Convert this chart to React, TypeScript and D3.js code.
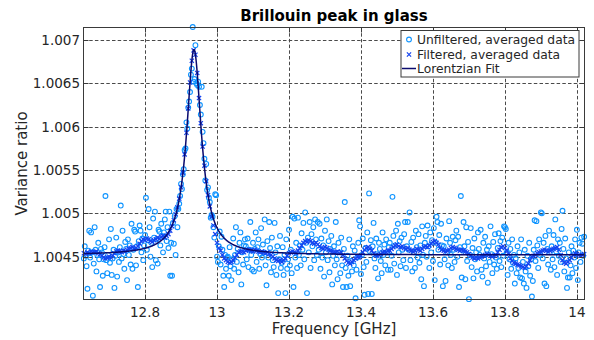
import React from 'react';
import * as d3 from 'd3';

// Frequency grid of the sweep [GHz]
const freqStart = 12.63;
const unfilteredStep = 0.0025;
const filteredStep = 0.005;

// Variance ratio values stored as (ratio - 1) x 1e5, e.g. 452 -> 1.00452
const unfiltered = [
  448, 462, 451, 439, 413, 457, 480, 449, 478, 455, 405, 442, 484, 458, 433, 452, 466, 447, 415, 459,
  455, 428, 447, 461, 520, 446, 431, 452, 470, 443, 482, 429, 448, 458, 414, 451, 472, 427, 455, 444,
  461, 509, 448, 480, 453, 436, 467, 459, 423, 470, 452, 463, 441, 488, 436, 458, 481, 479, 440, 462,
  415, 468, 486, 480, 455, 471, 446, 463, 475, 518, 458, 469, 505, 484, 450, 466, 438, 494, 472, 502,
  446, 470, 442, 481, 479, 463, 488, 474, 455, 478, 493, 502, 468, 484, 460, 502, 428, 466, 428, 489,
  465, 497, 452, 505, 484, 505, 511, 520, 534, 528, 545, 551, 573, 575, 605, 598, 622, 629, 640, 660,
  667, 715, 652, 655, 694, 650, 648, 652, 646, 625, 614, 646, 594, 581, 563, 538, 557, 527, 530, 518,
  513, 495, 498, 496, 484, 472, 522, 521, 450, 444, 462, 479, 441, 473, 458, 428, 415, 452, 436, 449,
  450, 428, 461, 439, 423, 447, 471, 436, 452, 484, 444, 459, 432, 466, 478, 418, 455, 441, 463, 470,
  462, 447, 471, 438, 458, 490, 452, 435, 466, 433, 459, 478, 444, 461, 470, 436, 453, 483, 449, 464,
  455, 493, 440, 417, 468, 449, 490, 460, 432, 472, 446, 438, 489, 455, 429, 462, 408, 447, 474, 437,
  443, 461, 429, 452, 408, 470, 436, 447, 481, 440, 458, 431, 496, 415, 494, 449, 466, 437, 495, 452,
  463, 440, 477, 458, 489, 447, 501, 466, 408, 472, 455, 490, 437, 476, 462, 484, 446, 493, 470, 452,
  490, 458, 488, 436, 471, 449, 463, 427, 480, 455, 493, 446, 468, 432, 459, 474, 418, 451, 462, 440,
  490, 447, 424, 466, 455, 431, 472, 440, 415, 459, 513, 437, 415, 451, 428, 470, 416, 445, 433, 462,
  440, 457, 402, 435, 449, 466, 492, 485, 430, 452, 471, 438, 406, 460, 444, 478, 407, 523, 456, 469,
  407, 462, 489, 448, 437, 471, 453, 425, 466, 459, 445, 431, 478, 452, 464, 440, 470, 455, 435, 461,
  466, 435, 451, 519, 474, 442, 463, 480, 429, 488, 455, 468, 439, 472, 458, 446, 476, 490, 437, 462,
  490, 458, 501, 446, 467, 433, 472, 455, 437, 480, 461, 449, 476, 443, 463, 424, 485, 452, 416, 466,
  474, 450, 486, 462, 437, 478, 455, 469, 445, 483, 423, 466, 496, 490, 458, 475, 441, 488, 463, 416,
  462, 447, 422, 471, 455, 440, 491, 466, 452, 437, 473, 458, 444, 469, 480, 450, 473, 415, 461, 520,
  426, 457, 490, 462, 424, 484, 445, 467, 401, 452, 483, 438, 460, 425, 471, 447, 455, 433, 478, 459,
  452, 481, 435, 427, 466, 448, 473, 439, 458, 420, 462, 444, 485, 453, 431, 467, 441, 476, 449, 436,
  460, 477, 445, 468, 438, 472, 451, 485, 484, 482, 455, 429, 466, 447, 459, 436, 470, 443, 452, 419,
  448, 431, 462, 437, 455, 426, 470, 425, 444, 419, 458, 433, 414, 451, 439, 466, 428, 447, 404, 422,
  458, 492, 445, 491, 463, 437, 470, 452, 501, 500, 448, 466, 419, 474, 416, 459, 441, 480, 455, 435,
  462, 447, 475, 438, 493, 456, 429, 470, 451, 466, 444, 482, 503, 459, 433, 471, 448, 414, 426, 455,
  426, 440, 462, 431, 457, 449, 470, 437, 481, 423, 455, 466, 444, 472, 465, 451, 473,
];

const filtered = [
  454, 453, 455, 454, 456, 455, 455, 456, 454, 453,
  451, 449, 448, 449, 450, 449, 451, 454, 456, 457,
  456, 455, 457, 456, 458, 459, 460, 461, 459, 460,
  462, 465, 468, 470, 469, 471, 470, 468, 467, 469,
  470, 472, 471, 473, 474, 472, 474, 476, 480, 485,
  492, 499, 507, 517, 530, 547, 568, 593, 621, 651,
  676, 688, 683, 662, 633, 604, 577, 555, 537, 521,
  508, 496, 486, 476, 466, 460, 457, 452, 448, 446,
  444, 443, 444, 446, 449, 452, 455, 456, 456, 455,
  457, 458, 458, 457, 456, 458, 457, 456, 455, 456,
  455, 454, 455, 453, 452, 450, 448, 446, 445, 446,
  444, 446, 448, 451, 454, 455, 456, 455, 454, 457,
  460, 463, 466, 468, 467, 469, 468, 466, 465, 466,
  464, 462, 460, 459, 461, 460, 458, 457, 456, 455,
  455, 456, 454, 455, 452, 448, 445, 443, 442, 444,
  446, 448, 450, 449, 451, 455, 458, 460, 461, 459,
  457, 454, 452, 451, 452, 453, 455, 456, 455, 457,
  457, 459, 461, 463, 464, 462, 461, 462, 460, 459,
  460, 458, 457, 456, 457, 459, 458, 457, 459, 461,
  462, 461, 463, 465, 467, 468, 466, 464, 460, 458,
  457, 456, 457, 458, 460, 461, 460, 459, 458, 457,
  458, 457, 456, 455, 453, 451, 449, 448, 449, 448,
  449, 450, 451, 452, 453, 452, 451, 450, 451, 452,
  455, 458, 461, 462, 460, 457, 453, 448, 445, 443,
  442, 441, 440, 439, 438, 437, 439, 442, 446, 450,
  451, 452, 454, 455, 456, 457, 458, 457, 456, 457,
  458, 459, 460, 461, 458, 452, 446, 443, 442, 444,
  446, 449, 452, 454, 453, 452, 451, 452, 453,
];

// Lorentzian fit parameters
const fitCenter = 12.936; // GHz
const fitHwhm = 0.025; // GHz
const fitAmplitude = 0.00237;
const fitBaseline = 1.00452;

const xTicks = [12.8, 13, 13.2, 13.4, 13.6, 13.8, 14];
const yTicks = [1.0045, 1.005, 1.0055, 1.006, 1.0065, 1.007];
const legendLabels = ['Unfiltered, averaged data', 'Filtered, averaged data', 'Lorentzian Fit'];

const W = 594;
const H = 340;
const L = 83.5, R = 584.5, T = 27.5, B = 299.5;
const FONT = '"DejaVu Sans", sans-serif';
const C_UNF = '#0f94ff';
const C_FIL = '#1444f0';
const C_FIT = '#0a0a6e';
const C_AX = '#3a3a3a';
const C_TXT = '#262626';

export default function App() {
  const x = d3.scaleLinear().domain([12.629, 14.0211]).range([L, R]);
  const y = d3.scaleLinear().domain([1.004006, 1.007144]).range([B, T]);

  const unfPts = unfiltered.map((v, i) => ({ f: freqStart + i * unfilteredStep, v: 1 + v * 1e-5 }));
  const filPts = filtered.map((v, i) => ({ f: freqStart + i * filteredStep, v: 1 + v * 1e-5 }));

  const lorentz = (f: number) => fitBaseline + fitAmplitude / (1 + ((f - fitCenter) / fitHwhm) ** 2);
  const [d0, d1] = x.domain();
  const fitPts = d3.range(0, 1201).map((k) => {
    const f = d0 + ((d1 - d0) * k) / 1200;
    return { f, v: lorentz(f) };
  });
  const line = d3
    .line<{ f: number; v: number }>()
    .x((d) => x(d.f))
    .y((d) => y(d.v));

  const xs = 2.1;
  const tick = 5;

  const lgX = 401, lgY = 30.5, lgW = 178, lgH = 46.5;

  return (
    <svg width={W} height={H} style={{ position: 'absolute', left: 0, top: 0, background: '#fff' }} fontFamily={FONT}>
      <rect x={0} y={0} width={W} height={H} fill="#fff" />
      <rect x={L} y={T} width={R - L} height={B - T} fill="#fff" />
      {/* grid */}
      <g stroke="#4a4a4a" strokeWidth={1} strokeDasharray="3.5,2.2">
        {xTicks.map((t) => (
          <line key={'gx' + t} x1={Math.round(x(t)) + 0.5} x2={Math.round(x(t)) + 0.5} y1={T} y2={B} />
        ))}
        {yTicks.map((t) => (
          <line key={'gy' + t} x1={L} x2={R} y1={Math.round(y(t)) + 0.5} y2={Math.round(y(t)) + 0.5} />
        ))}
      </g>
      {/* unfiltered circles */}
      <g fill="none" stroke={C_UNF} strokeWidth={1.1}>
        {unfPts.map((d, i) => (
          <circle key={i} cx={x(d.f)} cy={y(d.v)} r={2.4} />
        ))}
      </g>
      {/* filtered x markers */}
      <g stroke={C_FIL} strokeWidth={1.2}>
        {filPts.map((d, i) => {
          const cx = x(d.f), cy = y(d.v);
          return (
            <path key={i} d={`M${cx - xs},${cy - xs}L${cx + xs},${cy + xs}M${cx - xs},${cy + xs}L${cx + xs},${cy - xs}`} />
          );
        })}
      </g>
      {/* fit */}
      <path d={line(fitPts) || ''} fill="none" stroke={C_FIT} strokeWidth={1.5} />
      {/* axes box and ticks */}
      <rect x={L} y={T} width={R - L} height={B - T} fill="none" stroke={C_AX} strokeWidth={1} />
      <g stroke={C_AX} strokeWidth={1}>
        {xTicks.map((t) => {
          const px = Math.round(x(t)) + 0.5;
          return (
            <g key={'tx' + t}>
              <line x1={px} x2={px} y1={B} y2={B - tick} />
              <line x1={px} x2={px} y1={T} y2={T + tick} />
            </g>
          );
        })}
        {yTicks.map((t) => {
          const py = Math.round(y(t)) + 0.5;
          return (
            <g key={'ty' + t}>
              <line x1={L} x2={L + tick} y1={py} y2={py} />
              <line x1={R} x2={R - tick} y1={py} y2={py} />
            </g>
          );
        })}
      </g>
      {/* tick labels */}
      <g fill={C_TXT} fontSize={13.5}>
        {xTicks.map((t) => (
          <text key={'lx' + t} x={x(t)} y={316.5} textAnchor="middle">
            {String(t)}
          </text>
        ))}
        {yTicks.map((t) => (
          <text key={'ly' + t} x={80} y={y(t) + 5} textAnchor="end">
            {String(t)}
          </text>
        ))}
      </g>
      {/* axis labels */}
      <text x={(L + R) / 2} y={334} textAnchor="middle" fontSize={15} fill={C_TXT}>
        Frequency [GHz]
      </text>
      <text transform={`translate(26.5,${(T + B) / 2}) rotate(-90)`} textAnchor="middle" fontSize={15} fill={C_TXT}>
        Variance ratio
      </text>
      {/* title */}
      <text x={(L + R) / 2} y={21} textAnchor="middle" fontSize={15} fontWeight="bold" fill="#000">
        Brillouin peak in glass
      </text>
      {/* legend */}
      <g>
        <rect x={lgX} y={lgY} width={lgW} height={lgH} fill="#fff" stroke={C_AX} strokeWidth={1} />
        <circle cx={409} cy={39.5} r={2.4} fill="none" stroke={C_UNF} strokeWidth={1.1} />
        <path d={`M${409 - xs},${54.5 - xs}L${409 + xs},${54.5 + xs}M${409 - xs},${54.5 + xs}L${409 + xs},${54.5 - xs}`} stroke={C_FIL} strokeWidth={1.2} />
        <line x1={402} x2={416} y1={68.5} y2={68.5} stroke={C_FIT} strokeWidth={1.5} />
        <g fontSize={12.3} fill={C_TXT}>
          {legendLabels.map((s, i) => (
            <text key={s} x={417} y={44 + i * 14.6}>
              {s}
            </text>
          ))}
        </g>
      </g>
    </svg>
  );
}
